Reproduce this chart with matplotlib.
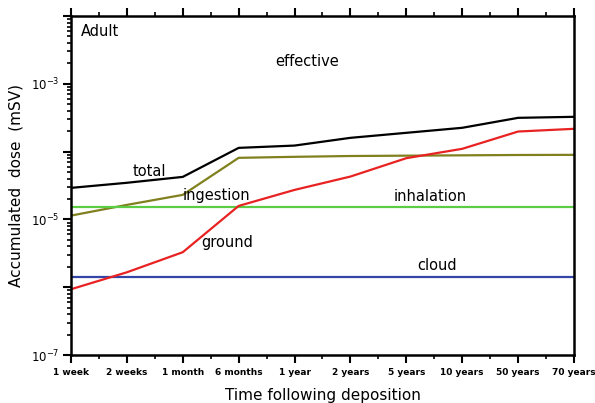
import numpy as np
import matplotlib
matplotlib.use("Agg")
import matplotlib.pyplot as plt
from matplotlib.ticker import LogLocator, NullFormatter, FixedFormatter, FixedLocator

# Categorias del eje x
periodos = ["1 week", "2 weeks", "1 month", "6 months", "1 year",
            "2 years", "5 years", "10 years", "50 years", "70 years"]

# Dosis acumulada (mSV) (log10)
log_total = [-4.535, -4.46, -4.373, -3.945, -3.911, -3.797, -3.723, -3.649, -3.502, -3.487]
log_ingestion = [-4.944, -4.786, -4.638, -4.092, -4.077, -4.065, -4.06, -4.055, -4.05, -4.048]
log_inhalation = [-4.811] * 10
log_cloud = [-5.853] * 10
log_ground = [-6.03, -5.78, -5.484, -4.801, -4.565, -4.368, -4.097, -3.959, -3.704, -3.664]

series = [
    (log_total, "black"),
    (log_ingestion, "#80801e"),
    (log_inhalation, "#5ccc44"),
    (log_cloud, "#3346a8"),
    (log_ground, "#e82222"),
]

fig = plt.figure(figsize=(5.95, 4.03), dpi=100)
ax = fig.add_axes([0.1193, 0.1191, 0.8454, 0.8412])

x = np.arange(len(periodos))
for vals, col in series:
    ax.plot(x, 10 ** np.array(vals), color=col, lw=1.6)

ax.set_yscale("log")
ax.set_ylim(1e-7, 1e-2)
ax.set_xlim(0, len(periodos) - 1)

# Ticks eje y
ax.yaxis.set_major_locator(FixedLocator([1e-7, 1e-6, 1e-5, 1e-4, 1e-3, 1e-2]))
ax.yaxis.set_major_formatter(FixedFormatter(["$10^{-7}$", "", "$10^{-5}$", "", "$10^{-3}$", ""]))
ax.yaxis.set_minor_locator(LogLocator(base=10, subs=np.arange(2, 10), numticks=20))
ax.yaxis.set_minor_formatter(NullFormatter())

# Ticks eje x
ax.set_xticks(x)
ax.set_xticklabels(periodos, fontsize=6.5, fontweight="bold")
ax.set_xticks(x[:-1] + 0.5, minor=True)

ax.tick_params(axis="both", which="major", direction="out", length=6, width=1.5,
               top=True, right=False)
ax.tick_params(axis="both", which="minor", direction="out", length=3, width=1.2,
               top=True, right=False)
ax.tick_params(axis="y", labelsize=8.5, pad=2)
ax.tick_params(axis="x", pad=3)
for s in ax.spines.values():
    s.set_linewidth(1.8)

ax.set_ylabel("Accumulated  dose  (mSV)", fontsize=11, labelpad=6)
ax.set_xlabel("Time following deposition", fontsize=11, labelpad=8)

# Etiquetas de texto
ax.text(0.02, 0.955, "Adult", transform=ax.transAxes, fontsize=10.5, va="center")
ax.text(0.47, 0.865, "effective", transform=ax.transAxes, fontsize=10.5, ha="center", va="center")
ax.text(1.4, 10 ** -4.3, "total", fontsize=10.5, ha="center", va="center")
ax.text(2.6, 10 ** -4.65, "ingestion", fontsize=10.5, ha="center", va="center")
ax.text(6.42, 10 ** -4.66, "inhalation", fontsize=10.5, ha="center", va="center")
ax.text(2.8, 10 ** -5.34, "ground", fontsize=10.5, ha="center", va="center")
ax.text(6.55, 10 ** -5.68, "cloud", fontsize=10.5, ha="center", va="center")

plt.savefig("out.png", dpi=100)
